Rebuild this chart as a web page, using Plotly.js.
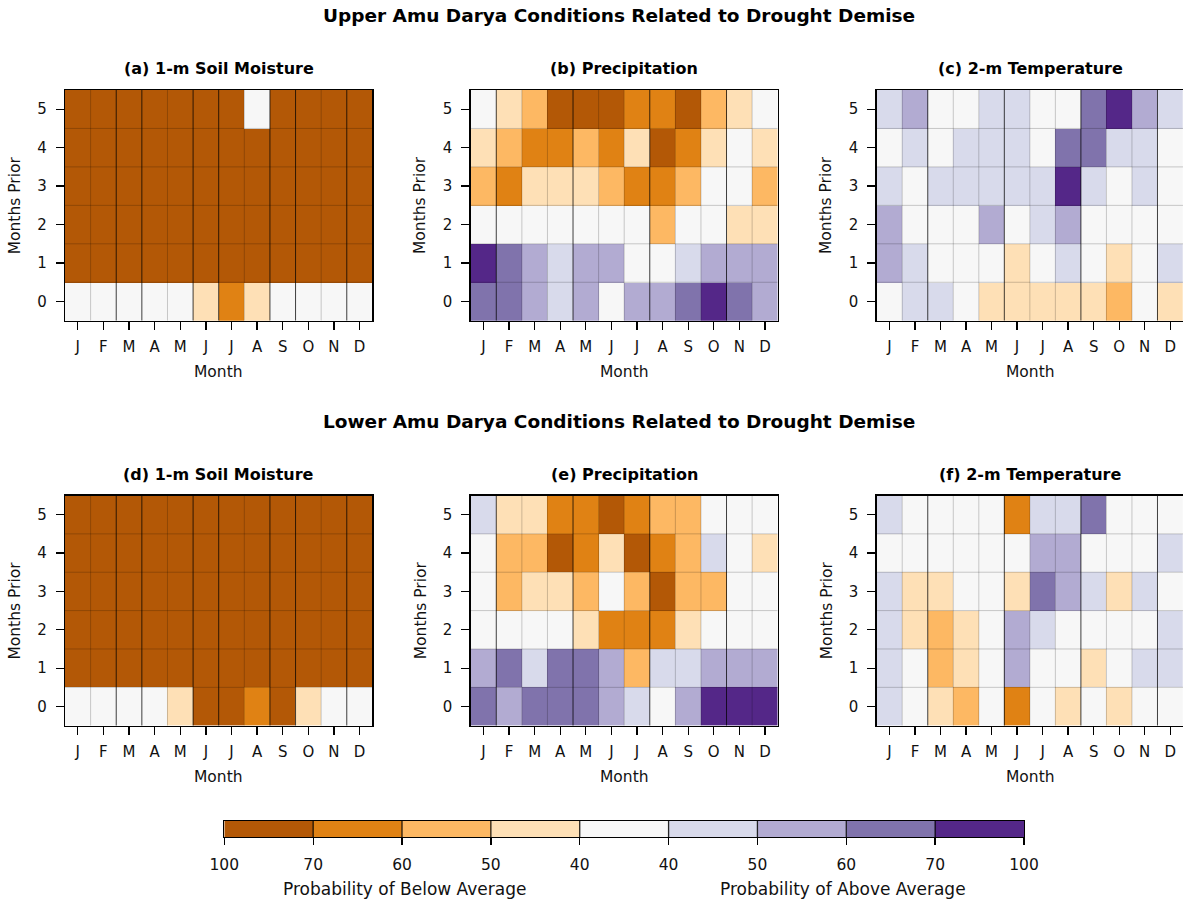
<!DOCTYPE html>
<html>
<head>
<meta charset="utf-8">
<script src="https://cdn.plot.ly/plotly-3.0.1.min.js"></script>
<style>html,body{margin:0;padding:0;background:#fff;}#chart{width:1183px;height:903px;}</style>
</head>
<body>
<div id="chart"></div>
<script>
// Categories: -4 = 100-70% below, -3 = 70-60 below, -2 = 60-50 below, -1 = 50-40 below,
// 0 = neutral, 1 = 40-50 above, 2 = 50-60 above, 3 = 60-70 above, 4 = 70-100 above
var months = ["J","F","M","A","M","J","J","A","S","O","N","D"];
var monthsPrior = [5,4,3,2,1,0];   // row order of the arrays below (top to bottom)

var upperSoil = [
  [-4,-4,-4,-4,-4,-4,-4, 0,-4,-4,-4,-4],
  [-4,-4,-4,-4,-4,-4,-4,-4,-4,-4,-4,-4],
  [-4,-4,-4,-4,-4,-4,-4,-4,-4,-4,-4,-4],
  [-4,-4,-4,-4,-4,-4,-4,-4,-4,-4,-4,-4],
  [-4,-4,-4,-4,-4,-4,-4,-4,-4,-4,-4,-4],
  [ 0, 0, 0, 0, 0,-1,-3,-1, 0, 0, 0, 0]
];
var upperPrecip = [
  [ 0,-1,-2,-4,-4,-4,-3,-3,-4,-2,-1, 0],
  [-1,-2,-3,-3,-2,-3,-1,-4,-3,-1, 0,-1],
  [-2,-3,-1,-1,-1,-2,-3,-3,-2, 0, 0,-2],
  [ 0, 0, 0, 0, 0, 0, 0,-2, 0, 0,-1,-1],
  [ 4, 3, 2, 1, 2, 2, 0, 0, 1, 2, 2, 2],
  [ 3, 3, 2, 1, 2, 0, 2, 2, 3, 4, 3, 2]
];
var upperTemp = [
  [ 1, 2, 0, 0, 1, 1, 0, 0, 3, 4, 2, 1],
  [ 0, 1, 0, 1, 1, 1, 0, 3, 3, 1, 1, 0],
  [ 1, 0, 1, 1, 1, 1, 1, 4, 1, 0, 1, 0],
  [ 2, 0, 0, 0, 2, 0, 1, 2, 0, 0, 0, 0],
  [ 2, 1, 0, 0, 0,-1, 0, 1, 0,-1, 0, 1],
  [ 0, 1, 1, 0,-1,-1,-1,-1,-1,-2, 0,-1]
];
var lowerSoil = [
  [-4,-4,-4,-4,-4,-4,-4,-4,-4,-4,-4,-4],
  [-4,-4,-4,-4,-4,-4,-4,-4,-4,-4,-4,-4],
  [-4,-4,-4,-4,-4,-4,-4,-4,-4,-4,-4,-4],
  [-4,-4,-4,-4,-4,-4,-4,-4,-4,-4,-4,-4],
  [-4,-4,-4,-4,-4,-4,-4,-4,-4,-4,-4,-4],
  [ 0, 0, 0, 0,-1,-4,-4,-3,-4,-1, 0, 0]
];
var lowerPrecip = [
  [ 1,-1,-1,-3,-3,-4,-3,-2,-2, 0, 0, 0],
  [ 0,-2,-2,-4,-3,-1,-4,-3,-2, 1, 0,-1],
  [ 0,-2,-1,-1,-2, 0,-2,-4,-2,-2, 0, 0],
  [ 0, 0, 0, 0,-1,-3,-3,-3,-1, 0, 0, 0],
  [ 2, 3, 1, 3, 3, 2,-2, 1, 1, 2, 2, 2],
  [ 3, 2, 3, 3, 3, 2, 1, 0, 2, 4, 4, 4]
];
var lowerTemp = [
  [ 1, 0, 0, 0, 0,-3, 1, 1, 3, 0, 0, 0],
  [ 0, 0, 0, 0, 0, 0, 2, 2, 0, 0, 0, 1],
  [ 1,-1,-1, 0, 0,-1, 3, 2, 1,-1, 1, 0],
  [ 1,-1,-2,-1, 0, 2, 1, 0, 0, 0, 0, 1],
  [ 1, 0,-2,-1, 0, 2, 0, 0,-1, 0, 1, 1],
  [ 1, 0,-1,-2, 0,-3, 0,-1, 0,-1, 0, 0]
];

var categoryCodes = [-4,-3,-2,-1,0,1,2,3,4];
var categoryColors = ["#b35806","#e08214","#fdb863","#fee0b6","#f7f7f7","#d8daeb","#b2abd2","#8073ac","#542788"];
var colorbarTickLabels = ["100","70","60","50","40","40","50","60","70","100"];

var panelTitles = ["(a) 1-m Soil Moisture","(b) Precipitation","(c) 2-m Temperature",
                   "(d) 1-m Soil Moisture","(e) Precipitation","(f) 2-m Temperature"];
var panelData = [upperSoil, upperPrecip, upperTemp, lowerSoil, lowerPrecip, lowerTemp];

// ---------- styling / layout ----------
var W = 1183, H = 903;
var FONT = "DejaVu Sans";
var colPx = [[65,372.4],[470.7,777.7],[876.7,1183]];
var rowPx = [[90,320.7],[495.5,725.7]];
var darkCols = [[2,3,5,6,8,9,11],[1,4,7,10],[2,5,8,11]];

function fx(px){return px/W;}
function fy(py){return 1 - py/H;}

var cs = [];
categoryColors.forEach(function(c,i){
  cs.push([i/9, c]); cs.push([(i+1)/9, c]);
});

var xIdx = months.map(function(_,i){return i;});
var traces = [], layout = {
  width: W, height: H, margin:{l:0,r:0,t:0,b:0},
  paper_bgcolor:"#fff", plot_bgcolor:"#fff",
  font:{family:FONT, color:"#000"},
  showlegend:false, shapes:[], annotations:[]
};

panelData.forEach(function(z, p){
  var r = Math.floor(p/3), c = p%3, n = p+1;
  var xa = "x"+(n===1?"":n), ya = "y"+(n===1?"":n);
  traces.push({
    type:"heatmap", z:z, x:xIdx, y:monthsPrior, xaxis:xa, yaxis:ya,
    zmin:-4.5, zmax:4.5, colorscale:cs, showscale:false, hoverinfo:"skip"
  });
  var axBase = {showline:true, mirror:true, linecolor:"#000", linewidth:1.3,
    showgrid:false, zeroline:false, ticks:"outside", ticklen:8, tickwidth:1.3, tickcolor:"#000",
    tickfont:{family:FONT,size:15,color:"#111"}, fixedrange:true};
  layout["xaxis"+(n===1?"":n)] = Object.assign({}, axBase, {
    domain:[fx(colPx[c][0]), Math.min(1,fx(colPx[c][1]))], anchor:ya,
    range:[-0.5,11.5], tickmode:"array", tickvals:xIdx, ticktext:months, ticklabelstandoff:4
  });
  layout["yaxis"+(n===1?"":n)] = Object.assign({}, axBase, {
    domain:[fy(rowPx[r][1]), fy(rowPx[r][0])], anchor:xa,
    range:[-0.5,5.5], tickmode:"array", tickvals:[0,1,2,3,4,5], ticktext:["0","1","2","3","4","5"],
    ticklabelstandoff:6
  });
  // cell edges
  for (var k=1;k<12;k++){
    var dark = darkCols[c].indexOf(k) >= 0;
    layout.shapes.push({type:"line", xref:xa, yref:ya, x0:k-0.5, x1:k-0.5, y0:-0.5, y1:5.5,
      line:{color: dark ? "rgba(0,0,0,0.75)" : "rgba(0,0,0,0.2)", width:1}, layer:"above"});
  }
  for (var j=1;j<6;j++){
    layout.shapes.push({type:"line", xref:xa, yref:ya, x0:-0.5, x1:11.5, y0:j-0.5, y1:j-0.5,
      line:{color:"rgba(0,0,0,0.2)", width:1}, layer:"above"});
  }
  // panel title
  layout.annotations.push({text:panelTitles[p], xref:"paper", yref:"paper",
    x:fx((colPx[c][0]+colPx[c][0]+307)/2), y:fy(rowPx[r][0]-21), xanchor:"center", yanchor:"middle",
    showarrow:false, font:{family:FONT,size:16,weight:"bold",color:"#000"}});
  // axis titles
  layout.annotations.push({text:"Month", xref:"paper", yref:"paper",
    x:fx((colPx[c][0]+colPx[c][0]+307)/2), y:fy(rowPx[r][1]+51.5), xanchor:"center", yanchor:"middle",
    showarrow:false, font:{family:FONT,size:15.5,color:"#111"}});
  layout.annotations.push({text:"Months Prior", xref:"paper", yref:"paper", textangle:-90,
    x:fx(colPx[c][0]-50), y:fy((rowPx[r][0]+rowPx[r][1])/2), xanchor:"center", yanchor:"middle",
    showarrow:false, font:{family:FONT,size:15.5,color:"#111"}});
});

// main titles
layout.annotations.push({text:"Upper Amu Darya Conditions Related to Drought Demise", xref:"paper", yref:"paper",
  x:fx(618.5), y:fy(16), xanchor:"center", yanchor:"middle", showarrow:false,
  font:{family:FONT,size:18.5,weight:"bold",color:"#000"}});
layout.annotations.push({text:"Lower Amu Darya Conditions Related to Drought Demise", xref:"paper", yref:"paper",
  x:fx(618.5), y:fy(421), xanchor:"center", yanchor:"middle", showarrow:false,
  font:{family:FONT,size:18.5,weight:"bold",color:"#000"}});

// colorbar as its own heatmap
var cbX = categoryCodes.map(function(_,i){return i;});
traces.push({type:"heatmap", z:[categoryCodes], x:cbX, y:[0], xaxis:"x7", yaxis:"y7",
  zmin:-4.5, zmax:4.5, colorscale:cs, showscale:false, hoverinfo:"skip"});
layout.xaxis7 = {domain:[fx(224.3), fx(1024)], anchor:"y7", range:[-0.5,8.5],
  tickmode:"array", tickvals:[-0.5,0.5,1.5,2.5,3.5,4.5,5.5,6.5,7.5,8.5], ticktext:colorbarTickLabels,
  ticks:"outside", ticklen:7, tickwidth:1.3, tickcolor:"#000", ticklabelstandoff:6,
  showline:true, mirror:true, linecolor:"#000", linewidth:1.3, showgrid:false, zeroline:false,
  tickfont:{family:FONT,size:15.5,color:"#111"}, fixedrange:true};
layout.yaxis7 = {domain:[fy(837), fy(821)], anchor:"x7", range:[-0.5,0.5],
  showticklabels:false, ticks:"", showline:true, mirror:true, linecolor:"#000", linewidth:1.3,
  showgrid:false, zeroline:false, fixedrange:true};
for (var b=1;b<9;b++){
  layout.shapes.push({type:"line", xref:"x7", yref:"y7", x0:b-0.5, x1:b-0.5, y0:-0.5, y1:0.5,
    line:{color:"rgba(0,0,0,0.85)", width:1.3}, layer:"above"});
}
layout.annotations.push({text:"Probability of Below Average", xref:"paper", yref:"paper",
  x:fx(404), y:fy(889), xanchor:"center", yanchor:"middle", showarrow:false,
  font:{family:FONT,size:17,color:"#111"}});
layout.annotations.push({text:"Probability of Above Average", xref:"paper", yref:"paper",
  x:fx(843), y:fy(889), xanchor:"center", yanchor:"middle", showarrow:false,
  font:{family:FONT,size:17,color:"#111"}});

Plotly.newPlot("chart", traces, layout, {staticPlot:true, displayModeBar:false});
</script>
</body>
</html>
